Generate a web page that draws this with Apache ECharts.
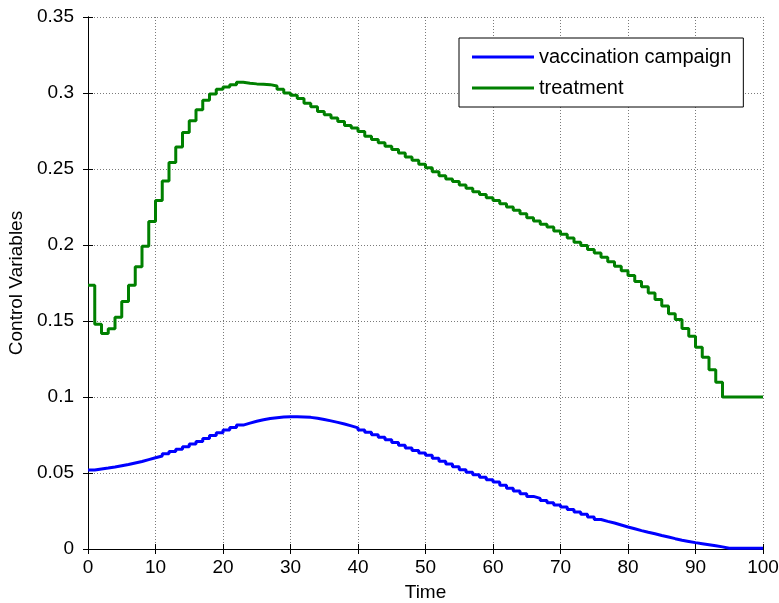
<!DOCTYPE html>
<html>
<head>
<meta charset="utf-8">
<script src="https://cdn.jsdelivr.net/npm/echarts@6/dist/echarts.min.js"></script>
<style>
    html, body { margin: 0; padding: 0; background: #fff; }
    #main { width: 779px; height: 603px; }
</style>
</head>
<body>
<div id="main"></div>
<script>
// stairs values, one per time step t = 0..99 (last step held to t = 100)
var vaccination = [
    0.0520, 0.0527, 0.0533, 0.0540, 0.0548, 0.0556, 0.0566, 0.0576, 0.0588, 0.0600,
    0.0612, 0.0626, 0.0641, 0.0656, 0.0672, 0.0690, 0.0708, 0.0727, 0.0746, 0.0765,
    0.0783, 0.0800, 0.0815, 0.0828, 0.0840, 0.0850, 0.0858, 0.0864, 0.0868, 0.0870,
    0.0870, 0.0869, 0.0866, 0.0860, 0.0852, 0.0843, 0.0833, 0.0822, 0.0810, 0.0797,
    0.0783, 0.0768, 0.0752, 0.0736, 0.0719, 0.0700, 0.0682, 0.0665, 0.0648, 0.0632,
    0.0616, 0.0597, 0.0578, 0.0560, 0.0541, 0.0522, 0.0505, 0.0489, 0.0472, 0.0456,
    0.0440, 0.0419, 0.0399, 0.0381, 0.0363, 0.0346, 0.0333, 0.0319, 0.0304, 0.0290,
    0.0276, 0.0260, 0.0244, 0.0228, 0.0210, 0.0194, 0.0182, 0.0171, 0.0158, 0.0145,
    0.0133, 0.0121, 0.0110, 0.0100, 0.0089, 0.0079, 0.0068, 0.0058, 0.0050, 0.0042,
    0.0035, 0.0028, 0.0021, 0.0014, 0.0005, 0.0005, 0.0005, 0.0005, 0.0005, 0.0005
];
var treatment = [
    0.1736, 0.1478, 0.1418, 0.1449, 0.1524, 0.1628, 0.1736, 0.1857, 0.1991, 0.2154,
    0.2293, 0.2421, 0.2542, 0.2645, 0.2740, 0.2817, 0.2890, 0.2952, 0.2993, 0.3024,
    0.3040, 0.3055, 0.3070, 0.3064, 0.3060, 0.3058, 0.3055, 0.3046, 0.3024, 0.3000,
    0.2985, 0.2963, 0.2932, 0.2910, 0.2879, 0.2857, 0.2835, 0.2813, 0.2786, 0.2769,
    0.2747, 0.2716, 0.2694, 0.2672, 0.2650, 0.2628, 0.2606, 0.2579, 0.2557, 0.2531,
    0.2509, 0.2482, 0.2456, 0.2434, 0.2417, 0.2395, 0.2373, 0.2351, 0.2333, 0.2311,
    0.2292, 0.2272, 0.2250, 0.2228, 0.2206, 0.2180, 0.2158, 0.2136, 0.2118, 0.2092,
    0.2071, 0.2046, 0.2018, 0.1996, 0.1970, 0.1948, 0.1920, 0.1890, 0.1860, 0.1830,
    0.1800, 0.1760, 0.1725, 0.1685, 0.1642, 0.1598, 0.1547, 0.1510, 0.1450, 0.1400,
    0.1327, 0.1262, 0.1180, 0.1097, 0.1000, 0.1000, 0.1000, 0.1000, 0.1000, 0.1000
];
var seriesNames = ['vaccination campaign', 'treatment'];
var seriesColors = ['#0000ff', '#008000'];

// [t, value] pairs, repeat last value at t = 100 so the final stair is drawn
function toStairs(values) {
    var pts = values.map(function (v, i) { return [i, v]; });
    pts.push([values.length, values[values.length - 1]]);
    return pts;
}

var font = 'Liberation Sans, Arial, sans-serif';
var chart = echarts.init(document.getElementById('main'));

var gridLine = { show: true, lineStyle: { color: '#7a7a7a', type: [1, 2], width: 1 } };
var tick = { show: true, inside: true, length: 5, lineStyle: { color: '#000' } };
var line = { show: true, lineStyle: { color: '#000', width: 1 } };
var label = { color: '#000', fontSize: 19, fontFamily: font };

chart.setOption({
    backgroundColor: '#fff',
    animation: false,
    grid: { left: 88, right: 16, top: 17, bottom: 54, outerBoundsMode: 'none', containLabel: false },
    legend: {
        data: seriesNames,
        orient: 'vertical',
        left: 459,
        top: 38,
        padding: [8, 12, 8, 13],
        itemGap: 9,
        itemWidth: 62,
        itemHeight: 3,
        icon: 'rect',
        borderColor: '#000',
        borderWidth: 1,
        backgroundColor: '#fff',
        textStyle: { color: '#000', fontSize: 20, fontFamily: font, lineHeight: 22 }
    },
    xAxis: [
        {
            type: 'value', min: 0, max: 100, interval: 10,
            name: 'Time', nameLocation: 'middle', nameGap: 34,
            nameTextStyle: { color: '#000', fontSize: 19, fontFamily: font },
            axisLine: line, axisTick: tick, splitLine: gridLine,
            axisLabel: Object.assign({ margin: 9 }, label)
        },
        {
            type: 'value', min: 0, max: 100, interval: 10, position: 'top',
            axisLine: line, axisTick: tick, splitLine: { show: false },
            axisLabel: { show: false }
        }
    ],
    yAxis: [
        {
            type: 'value', min: 0, max: 0.35, interval: 0.05,
            name: 'Control Variables', nameLocation: 'middle', nameGap: 60,
            nameTextStyle: { color: '#000', fontSize: 19, fontFamily: font },
            axisLine: line, axisTick: tick, splitLine: gridLine,
            axisLabel: Object.assign({
                margin: 14,
                formatter: function (v) { return String(parseFloat(v.toFixed(2))); }
            }, label)
        },
        {
            type: 'value', min: 0, max: 0.35, interval: 0.05, position: 'right',
            axisLine: line, axisTick: tick, splitLine: { show: false },
            axisLabel: { show: false }
        }
    ],
    series: [
        {
            name: seriesNames[0],
            type: 'line',
            step: 'end',
            showSymbol: false,
            color: seriesColors[0],
            lineStyle: { width: 3, color: seriesColors[0] },
            data: toStairs(vaccination)
        },
        {
            name: seriesNames[1],
            type: 'line',
            step: 'end',
            showSymbol: false,
            color: seriesColors[1],
            lineStyle: { width: 3, color: seriesColors[1] },
            data: toStairs(treatment)
        }
    ]
});
</script>
</body>
</html>
